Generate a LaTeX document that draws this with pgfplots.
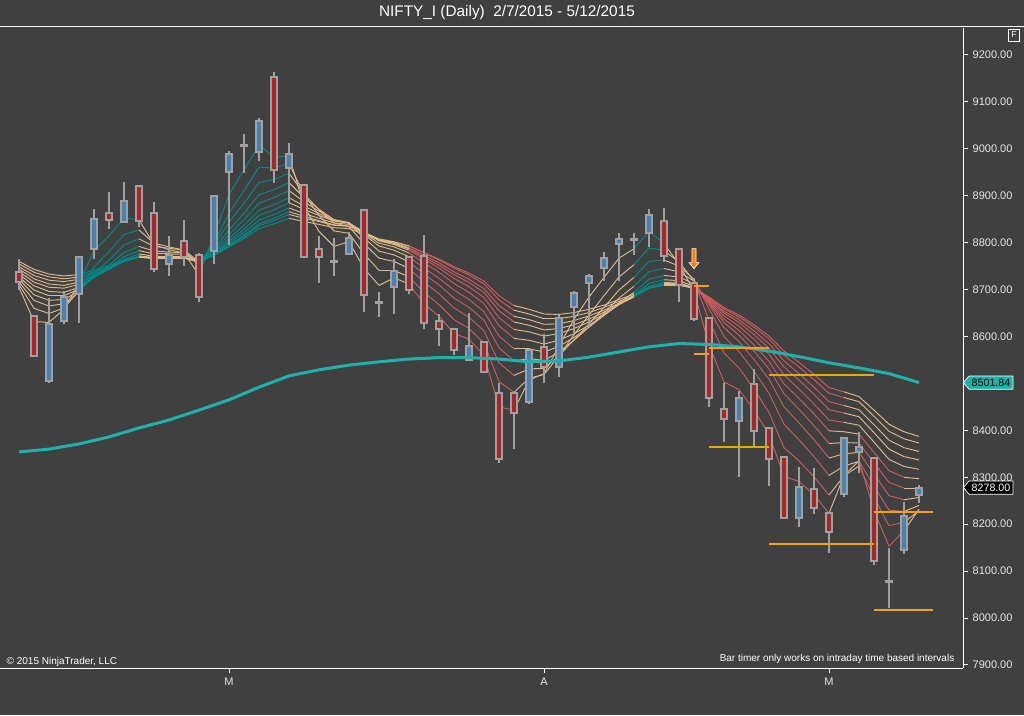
\documentclass[border=0pt]{standalone}
\usepackage{fontspec}
\setmainfont{Liberation Sans}
\usepackage{pgfplots}
\usepackage{pgfplotstable}
\pgfplotsset{compat=1.18}

\definecolor{bg}{RGB}{64,64,64}
\definecolor{cgray}{RGB}{160,160,160}
\definecolor{cred}{RGB}{168,38,38}
\definecolor{cblue}{RGB}{70,130,180}
\definecolor{sma}{RGB}{32,178,170}
\definecolor{orangeline}{RGB}{245,160,20}
\definecolor{tickc}{RGB}{230,230,235}

\pgfplotsset{
  colormap={ribbon}{rgb255=(222,186,140) rgb255=(0,139,139) rgb255=(205,92,92)},
  body/.style={draw=cgray, line width=1.5pt, line cap=rect, line join=miter},
  rib/.style={mesh, shader=flat corner, line width=0.7pt, point meta=explicit},
}

\pgfdeclareplotmark{darrow}{%
  \pgfpathmoveto{\pgfqpoint{-1.5pt}{7.5pt}}%
  \pgfpathlineto{\pgfqpoint{1.5pt}{7.5pt}}%
  \pgfpathlineto{\pgfqpoint{1.5pt}{-3pt}}%
  \pgfpathlineto{\pgfqpoint{3.75pt}{-3pt}}%
  \pgfpathlineto{\pgfqpoint{0pt}{-7.5pt}}%
  \pgfpathlineto{\pgfqpoint{-3.75pt}{-3pt}}%
  \pgfpathlineto{\pgfqpoint{-1.5pt}{-3pt}}%
  \pgfpathclose
  \pgfusepathqfillstroke}

% EMA ribbon (11 lines), c = colour of fast lines, c2 = colour of slow lines (0 tan, 1 teal, 2 red)
\pgfplotstableread{
i e2 e3 e4 e5 e6 e7 e8 e9 e10 e11 e12 c c2
0 8705 8711 8716 8722 8727 8733 8738 8744 8749 8755 8760 0 0
1 8632 8660 8677 8689 8699 8708 8716 8723 8730 8737 8743 0 0
2 8630 8649 8665 8677 8687 8696 8705 8712 8720 8727 8733 0 0
3 8658 8661 8670 8679 8687 8694 8703 8709 8717 8723 8729 0 0
4 8714 8697 8695 8697 8701 8705 8711 8716 8722 8727 8732 1 1
5 8782 8748 8734 8728 8726 8726 8728 8731 8735 8738 8742 1 1
6 8815 8781 8763 8752 8746 8743 8743 8744 8746 8748 8751 1 1
7 8852 8817 8795 8779 8770 8764 8761 8760 8760 8761 8763 1 1
8 8849 8827 8808 8792 8783 8776 8772 8770 8769 8769 8770 0 0
9 8796 8799 8792 8782 8776 8771 8768 8767 8766 8767 8768 0 0
10 8785 8791 8788 8780 8776 8771 8769 8768 8767 8768 8768 0 0
11 8778 8784 8784 8778 8775 8771 8769 8768 8767 8768 8768 0 0
12 8731 8751 8759 8759 8760 8759 8758 8759 8759 8760 8761 1 1
13 8815 8800 8794 8787 8783 8779 8776 8775 8773 8773 8773 1 1
14 8902 8863 8843 8827 8817 8809 8803 8799 8795 8793 8791 1 1
15 8955 8911 8884 8863 8849 8837 8829 8822 8816 8813 8809 1 1
16 9008 8961 8928 8902 8884 8869 8858 8848 8840 8836 8830 1 1
17 8982 8959 8935 8913 8896 8881 8870 8860 8852 8847 8840 1 1
18 8985 8969 8948 8928 8911 8896 8885 8874 8866 8860 8852 0 0
19 8878 8903 8904 8896 8887 8878 8871 8862 8856 8852 8845 0 0
20 8824 8858 8870 8871 8867 8862 8858 8852 8847 8845 8839 0 0
21 8792 8825 8842 8849 8849 8847 8846 8842 8838 8837 8832 0 0
22 8802 8820 8834 8841 8843 8842 8842 8839 8835 8835 8830 0 0
23 8745 8776 8798 8810 8817 8820 8823 8822 8820 8822 8818 0 0
24 8709 8741 8767 8782 8793 8799 8804 8805 8805 8808 8806 0 0
25 8725 8741 8760 8774 8784 8791 8796 8798 8799 8802 8801 0 0
26 8712 8727 8745 8759 8770 8778 8784 8787 8789 8793 8793 2 2
27 8670 8694 8716 8733 8746 8757 8765 8769 8773 8778 8779 2 2
28 8643 8668 8691 8710 8724 8737 8746 8752 8757 8763 8765 2 2
29 8607 8636 8661 8682 8699 8713 8724 8732 8738 8746 8749 2 2
30 8594 8617 8641 8662 8679 8694 8706 8715 8722 8731 8735 2 2
31 8560 8586 8612 8635 8653 8670 8683 8694 8702 8712 8718 2 2
32 8450 8504 8544 8576 8601 8623 8640 8655 8666 8678 8687 2 2
33 8443 8481 8517 8548 8574 8596 8615 8631 8643 8656 8666 0 0
34 8507 8511 8531 8553 8574 8592 8610 8624 8636 8648 8658 0 0
35 8521 8519 8532 8549 8567 8584 8601 8614 8626 8638 8648 0 0
36 8580 8559 8559 8567 8579 8592 8606 8617 8627 8638 8647 0 0
37 8637 8604 8593 8592 8598 8606 8617 8625 8634 8643 8651 0 0
38 8684 8646 8627 8620 8620 8624 8631 8637 8644 8651 8658 0 0
39 8726 8687 8662 8650 8645 8645 8648 8652 8656 8662 8667 0 0
40 8767 8727 8699 8682 8672 8668 8668 8669 8671 8675 8679 0 0
41 8787 8753 8726 8707 8694 8688 8685 8684 8685 8687 8690 1 1
42 8824 8789 8760 8738 8722 8713 8707 8704 8703 8703 8704 1 1
43 8798 8783 8763 8745 8730 8721 8715 8712 8710 8709 8710 0 0
44 8754 8759 8750 8738 8727 8719 8714 8712 8710 8709 8710 0 0
45 8696 8718 8722 8718 8712 8707 8704 8704 8703 8703 8704 2 2
46 8582 8635 8659 8668 8671 8673 8675 8678 8680 8682 8684 2 2
47 8503 8565 8600 8619 8630 8637 8644 8650 8654 8659 8662 2 2
48 8487 8533 8568 8589 8603 8613 8622 8630 8636 8642 8646 2 2
49 8443 8488 8526 8551 8569 8582 8594 8604 8612 8620 8625 2 2
50 8391 8438 8479 8509 8531 8547 8562 8575 8585 8595 8601 2 2
51 8302 8363 8413 8450 8478 8499 8518 8535 8548 8560 8569 2 2
52 8291 8335 8380 8416 8445 8468 8488 8507 8521 8535 8545 2 2
53 8263 8301 8344 8380 8410 8435 8456 8477 8492 8508 8519 2 2
54 8223 8262 8304 8341 8372 8399 8422 8444 8461 8479 8491 0 2
55 8304 8303 8324 8350 8374 8397 8417 8437 8453 8470 8482 0 0
56 8335 8324 8334 8353 8373 8392 8411 8429 8444 8461 8472 2 0
57 8229 8257 8281 8307 8331 8353 8375 8395 8412 8430 8443 2 0
58 8153 8197 8230 8261 8289 8314 8338 8360 8379 8398 8413 2 0
59 8186 8204 8227 8252 8277 8300 8323 8344 8363 8382 8397 0 0
60 8232 8229 8240 8257 8277 8297 8317 8337 8355 8373 8387 0 0
}\ribbon

\begin{document}
\begin{tikzpicture}[x=0.75pt,y=0.75pt]
\fill[bg] (0,0) rectangle (1024,715);
\path[use as bounding box] (0,0) rectangle (1024,715);

\begin{axis}[
  at={(0pt,35.25pt)}, anchor=south west,
  scale only axis, width=722.25pt, height=480pt,
  xmin=-1.2667, xmax=62.9333, ymin=7893.5, ymax=9257.5,
  axis x line*=bottom, axis y line*=right,
  axis line style={draw=white, line width=0.75pt},
  ytick={7900,8000,8100,8200,8300,8400,8600,8700,8800,8900,9000,9100,9200},
  xtick={14,35,54}, xticklabels={M,A,M},
  tick align=outside, major tick length=3.75pt,
  tick style={draw=white, line width=0.75pt},
  yticklabel style={/pgf/number format/fixed, /pgf/number format/fixed zerofill, /pgf/number format/precision=2, /pgf/number format/1000 sep={}},
  /pgf/number format/assume math mode=true,
  ticklabel style={font=\fontsize{8.25}{9}\selectfont, text=tickc},
  unbounded coords=jump,
  colormap name=ribbon, colormap access=direct,
]
% ribbon
\addplot[rib] table[x=i, y=e12, meta=c2] {\ribbon};
\addplot[rib] table[x=i, y=e11, meta=c2] {\ribbon};
\addplot[rib] table[x=i, y=e10, meta=c2] {\ribbon};
\addplot[rib] table[x=i, y=e9, meta=c2] {\ribbon};
\addplot[rib] table[x=i, y=e8, meta=c2] {\ribbon};
\addplot[rib] table[x=i, y=e7, meta=c] {\ribbon};
\addplot[rib] table[x=i, y=e6, meta=c] {\ribbon};
\addplot[rib] table[x=i, y=e5, meta=c] {\ribbon};
\addplot[rib] table[x=i, y=e4, meta=c] {\ribbon};
\addplot[rib] table[x=i, y=e3, meta=c] {\ribbon};
\addplot[rib] table[x=i, y=e2, meta=c] {\ribbon};

% wicks (low to high)
\addplot[cgray, line width=1.5pt] coordinates {
(0,8699) (0,8765) (0,nan) (1,8556) (1,8646) (1,nan) (2,8500) (2,8681) (2,nan)
(3,8626) (3,8696) (3,nan) (4,8628) (4,8770) (4,nan) (5,8765) (5,8872) (5,nan)
(6,8830) (6,8907) (6,nan) (7,8841) (7,8929) (7,nan) (8,8834) (8,8921) (8,nan)
(9,8738) (9,8886) (9,nan) (10,8728) (10,8814) (10,nan) (11,8751) (11,8848) (11,nan)
(12,8674) (12,8777) (12,nan) (13,8754) (13,8902) (13,nan) (14,8794) (14,8996) (14,nan)
(15,8948) (15,9032) (15,nan) (16,8973) (16,9065) (16,nan) (17,8928) (17,9163) (17,nan)
(18,8884) (18,9012) (18,nan) (19,8768) (19,8925) (19,nan) (20,8715) (20,8814) (20,nan)
(21,8728) (21,8811) (21,nan) (22,8776) (22,8823) (22,nan) (23,8653) (23,8870) (23,nan)
(24,8642) (24,8694) (24,nan) (25,8647) (25,8765) (25,nan) (26,8690) (26,8770) (26,nan)
(27,8615) (27,8816) (27,nan) (28,8580) (28,8647) (28,nan) (29,8561) (29,8616) (29,nan)
(30,8550) (30,8651) (30,nan) (31,8523) (31,8589) (31,nan) (32,8330) (32,8500) (32,nan)
(33,8360) (33,8479) (33,nan) (34,8456) (34,8571) (34,nan) (35,8500) (35,8605) (35,nan)
(36,8513) (36,8646) (36,nan) (37,8608) (37,8697) (37,nan) (38,8621) (38,8733) (38,nan)
(39,8718) (39,8781) (39,nan) (40,8718) (40,8820) (40,nan) (41,8774) (41,8821) (41,nan)
(42,8791) (42,8871) (42,nan) (43,8759) (43,8873) (43,nan) (44,8674) (44,8788) (44,nan)
(45,8632) (45,8724) (45,nan) (46,8449) (46,8640) (46,nan) (47,8376) (47,8500) (47,nan)
(48,8301) (48,8484) (48,nan) (49,8367) (49,8530) (49,nan) (50,8282) (50,8406) (50,nan)
(51,8211) (51,8346) (51,nan) (52,8195) (52,8322) (52,nan) (53,8221) (53,8319) (53,nan)
(54,8139) (54,8224) (54,nan) (55,8257) (55,8386) (55,nan) (56,8310) (56,8396) (56,nan)
(57,8112) (57,8342) (57,nan) (58,8022) (58,8150) (58,nan) (59,8136) (59,8247) (59,nan)
(60,8245) (60,8283)};

% bearish bodies (close to open)
\addplot[body, fill=cred] coordinates {
(-0.21,8717) (0.21,8717) (0.21,8738) (-0.21,8738) (-0.21,8717) (-0.21,nan)
(0.79,8558) (1.21,8558) (1.21,8644) (0.79,8644) (0.79,8558) (0.79,nan)
(5.79,8848) (6.21,8848) (6.21,8863) (5.79,8863) (5.79,8848) (5.79,nan)
(7.79,8846) (8.21,8846) (8.21,8921) (7.79,8921) (7.79,8846) (7.79,nan)
(8.79,8743) (9.21,8743) (9.21,8864) (8.79,8864) (8.79,8743) (8.79,nan)
(10.79,8770) (11.21,8770) (11.21,8804) (10.79,8804) (10.79,8770) (10.79,nan)
(11.79,8684) (12.21,8684) (12.21,8774) (11.79,8774) (11.79,8684) (11.79,nan)
(16.79,8955) (17.21,8955) (17.21,9152) (16.79,9152) (16.79,8955) (16.79,nan)
(18.79,8770) (19.21,8770) (19.21,8923) (18.79,8923) (18.79,8770) (18.79,nan)
(19.79,8769) (20.21,8769) (20.21,8786) (19.79,8786) (19.79,8769) (19.79,nan)
(22.79,8688) (23.21,8688) (23.21,8870) (22.79,8870) (22.79,8688) (22.79,nan)
(25.79,8699) (26.21,8699) (26.21,8770) (25.79,8770) (25.79,8699) (25.79,nan)
(26.79,8628) (27.21,8628) (27.21,8772) (26.79,8772) (26.79,8628) (26.79,nan)
(27.79,8616) (28.21,8616) (28.21,8632) (27.79,8632) (27.79,8616) (27.79,nan)
(28.79,8571) (29.21,8571) (29.21,8616) (28.79,8616) (28.79,8571) (28.79,nan)
(30.79,8525) (31.21,8525) (31.21,8589) (30.79,8589) (30.79,8525) (30.79,nan)
(31.79,8340) (32.21,8340) (32.21,8479) (31.79,8479) (31.79,8340) (31.79,nan)
(32.79,8436) (33.21,8436) (33.21,8479) (32.79,8479) (32.79,8436) (32.79,nan)
(34.79,8534) (35.21,8534) (35.21,8578) (34.79,8578) (34.79,8534) (34.79,nan)
(42.79,8772) (43.21,8772) (43.21,8847) (42.79,8847) (42.79,8772) (42.79,nan)
(43.79,8710) (44.21,8710) (44.21,8786) (43.79,8786) (43.79,8710) (43.79,nan)
(44.79,8637) (45.21,8637) (45.21,8715) (44.79,8715) (44.79,8637) (44.79,nan)
(45.79,8468) (46.21,8468) (46.21,8640) (45.79,8640) (45.79,8468) (45.79,nan)
(46.79,8424) (47.21,8424) (47.21,8446) (46.79,8446) (46.79,8424) (46.79,nan)
(48.79,8399) (49.21,8399) (49.21,8498) (48.79,8498) (48.79,8399) (48.79,nan)
(49.79,8339) (50.21,8339) (50.21,8406) (49.79,8406) (49.79,8339) (49.79,nan)
(50.79,8213) (51.21,8213) (51.21,8343) (50.79,8343) (50.79,8213) (50.79,nan)
(52.79,8234) (53.21,8234) (53.21,8276) (52.79,8276) (52.79,8234) (52.79,nan)
(53.79,8183) (54.21,8183) (54.21,8224) (53.79,8224) (53.79,8183) (53.79,nan)
(56.79,8122) (57.21,8122) (57.21,8342) (56.79,8342) (56.79,8122)};

% bullish bodies (open to close)
\addplot[body, fill=cblue] coordinates {
(1.79,8505) (2.21,8505) (2.21,8627) (1.79,8627) (1.79,8505) (1.79,nan)
(2.79,8632) (3.21,8632) (3.21,8685) (2.79,8685) (2.79,8632) (2.79,nan)
(3.79,8691) (4.21,8691) (4.21,8770) (3.79,8770) (3.79,8691) (3.79,nan)
(4.79,8787) (5.21,8787) (5.21,8850) (4.79,8850) (4.79,8787) (4.79,nan)
(6.79,8845) (7.21,8845) (7.21,8889) (6.79,8889) (6.79,8845) (6.79,nan)
(9.79,8755) (10.21,8755) (10.21,8774) (9.79,8774) (9.79,8755) (9.79,nan)
(12.79,8782) (13.21,8782) (13.21,8899) (12.79,8899) (12.79,8782) (12.79,nan)
(13.79,8951) (14.21,8951) (14.21,8989) (13.79,8989) (13.79,8951) (13.79,nan)
(15.79,8993) (16.21,8993) (16.21,9060) (15.79,9060) (15.79,8993) (15.79,nan)
(17.79,8960) (18.21,8960) (18.21,8988) (17.79,8988) (17.79,8960) (17.79,nan)
(21.79,8776) (22.21,8776) (22.21,8811) (21.79,8811) (21.79,8776) (21.79,nan)
(24.79,8706) (25.21,8706) (25.21,8740) (24.79,8740) (24.79,8706) (24.79,nan)
(29.79,8550) (30.21,8550) (30.21,8580) (29.79,8580) (29.79,8550) (29.79,nan)
(33.79,8461) (34.21,8461) (34.21,8571) (33.79,8571) (33.79,8461) (33.79,nan)
(35.79,8534) (36.21,8534) (36.21,8639) (35.79,8639) (35.79,8534) (35.79,nan)
(36.79,8662) (37.21,8662) (37.21,8693) (36.79,8693) (36.79,8662) (36.79,nan)
(37.79,8715) (38.21,8715) (38.21,8730) (37.79,8730) (37.79,8715) (37.79,nan)
(38.79,8747) (39.21,8747) (39.21,8768) (38.79,8768) (38.79,8747) (38.79,nan)
(39.79,8797) (40.21,8797) (40.21,8808) (39.79,8808) (39.79,8797) (39.79,nan)
(41.79,8820) (42.21,8820) (42.21,8860) (41.79,8860) (41.79,8820) (41.79,nan)
(47.79,8420) (48.21,8420) (48.21,8470) (47.79,8470) (47.79,8420) (47.79,nan)
(51.79,8213) (52.21,8213) (52.21,8280) (51.79,8280) (51.79,8213) (51.79,nan)
(54.79,8264) (55.21,8264) (55.21,8384) (54.79,8384) (54.79,8264) (54.79,nan)
(55.79,8353) (56.21,8353) (56.21,8365) (55.79,8365) (55.79,8353) (55.79,nan)
(58.79,8145) (59.21,8145) (59.21,8218) (58.79,8218) (58.79,8145) (58.79,nan)
(59.79,8262) (60.21,8262) (60.21,8278) (59.79,8278) (59.79,8262)};

% doji (open = close)
\addplot[cgray, line width=2.25pt] coordinates {
(14.72,9008) (15.28,9008) (15.28,nan) (20.72,8759) (21.28,8759) (21.28,nan)
(23.72,8672) (24.28,8672) (24.28,nan) (40.72,8806) (41.28,8806) (41.28,nan)
(57.72,8077) (58.28,8077)};

% 50-day moving average
\addplot[sma, line width=2.25pt] coordinates {
(0,8354) (2,8360) (4,8371) (6,8386) (8,8405) (10,8422) (12,8443) (14,8465)
(16,8492) (18,8516) (20,8529) (22,8539) (24,8546) (26,8552) (28,8555) (30,8555)
(32,8552) (34,8546) (36,8548) (38,8556) (40,8567) (42,8578) (44,8585) (46,8583)
(48,8578) (50,8569) (52,8557) (54,8544) (56,8533) (58,8521) (60,8501.84)};

% pivot levels
\addplot[orangeline, line width=1.5pt] coordinates {
(45,8708) (46,8708) (46,nan)
(45,8563) (46,8563) (46,nan)
(46,8575) (50,8575) (50,nan)
(46,8364) (50,8364) (50,nan)
(50,8517) (57,8517) (57,nan)
(50,8157) (57,8157) (57,nan)
(57,8225) (60.93,8225) (60.93,nan)
(57,8017) (60.93,8017)};

% signal arrow
\addplot[only marks, mark=darrow, mark options={fill=orange, draw=white, line width=0.5pt}] coordinates {(45,8766)};
\end{axis}

% frame, title and labels
\draw[white, line width=0.75pt] (0,688.3) -- (1024,688.3);
\node[text=white, font=\fontsize{11.5}{13}\selectfont] at (507,702) {NIFTY\_I (Daily)\ \ 2/7/2015 - 5/12/2015};
\draw[white, line width=0.6pt] (1008.5,674) rectangle (1019.5,686);
\node[text=white, font=\fontsize{6.5}{7}\selectfont] at (1014,680) {F};
\node[anchor=west, text=white, font=\fontsize{7.5}{9}\selectfont] at (2,53) {© 2015 NinjaTrader, LLC};
\node[anchor=east, text=white, font=\fontsize{7.5}{9}\selectfont] at (959,56) {Bar timer only works on intraday time based intervals};

% price tags
\filldraw[fill=sma, draw=white, line width=0.5pt] (963.5,332.4) -- (969,339) -- (1013,339) -- (1013,325.8) -- (969,325.8) -- cycle;
\node[text=black, font=\fontsize{8}{9}\selectfont] at (991,332.4) {8501.84};
\filldraw[fill=black, draw=white, line width=0.5pt] (963.5,227.4) -- (969,234) -- (1013,234) -- (1013,220.8) -- (969,220.8) -- cycle;
\node[text=white, font=\fontsize{8}{9}\selectfont] at (991,227.4) {8278.00};
\end{tikzpicture}
\end{document}
